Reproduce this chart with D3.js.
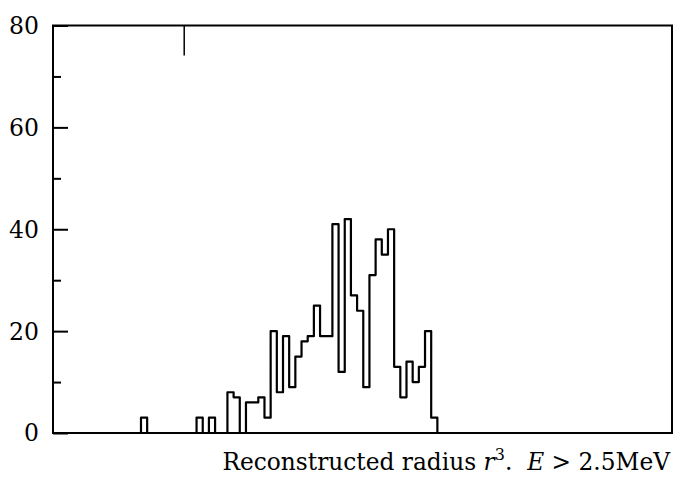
<!DOCTYPE html>
<html>
<head>
<meta charset="utf-8">
<script src="https://cdn.jsdelivr.net/npm/d3@7"></script>
<style>
  html, body { margin: 0; padding: 0; background: #fff; }
  svg { display: block; }
</style>
</head>
<body>
<svg id="chart" width="673" height="477"></svg>
<script>
// Histogram counts per bin (bins 0..99), only non-empty bins listed.
const binIndex = [14, 23, 25, 28, 29, 31, 32, 33, 34, 35, 36, 37, 38, 39, 40, 41, 42, 43, 44,
                  45, 46, 47, 48, 49, 50, 51, 52, 53, 54, 55, 56, 57, 58, 59, 60, 61];
const binCount = [3, 3, 3, 8, 7, 6, 6, 7, 3, 20, 8, 19, 9, 15, 18, 19, 25, 19, 19,
                  41, 12, 42, 27, 24, 9, 31, 38, 35, 40, 13, 7, 14, 10, 13, 20, 3];
const nBins = 100;
const yTicksMajor = [0, 20, 40, 60, 80];
const yTicksMinor = [10, 30, 50, 70];
const cutMarker = [21];

const serif = "'DejaVu Serif', serif";
const svg = d3.select("#chart");
const plotL = 53, plotR = 672, plotT = 25.5, plotB = 433;

const x = d3.scaleLinear().domain([-0.25, nBins]).range([plotL, plotR]);
const y = d3.scaleLinear().domain([0, 80]).range([plotB, plotT]);

// full count array
const counts = new Array(nBins).fill(0);
binIndex.forEach((b, i) => { counts[b] = binCount[i]; });

// step outline of the histogram
const pts = [];
pts.push([0, 0]);
counts.forEach((c, i) => { pts.push([i, c]); pts.push([i + 1, c]); });
pts.push([nBins, 0]);
const line = d3.line().x(d => x(d[0])).y(d => y(d[1]));
svg.append("path")
  .attr("d", line(pts))
  .attr("fill", "none")
  .attr("stroke", "#000")
  .attr("stroke-width", 2.2)
  .attr("stroke-linejoin", "round");

// frame
svg.append("rect")
  .attr("x", plotL).attr("y", plotT)
  .attr("width", plotR - plotL).attr("height", plotB - plotT)
  .attr("fill", "none").attr("stroke", "#000").attr("stroke-width", 2);

// y axis ticks pointing inward
const yAxis = d3.axisRight(y).tickValues(yTicksMajor).tickSize(15).tickFormat("");
const gy = svg.append("g").attr("transform", `translate(${plotL},0)`).call(yAxis);
gy.select(".domain").remove();
gy.selectAll("line").attr("stroke", "#000").attr("stroke-width", 2);

const yAxisMinor = d3.axisRight(y).tickValues(yTicksMinor).tickSize(8).tickFormat("");
const gym = svg.append("g").attr("transform", `translate(${plotL},0)`).call(yAxisMinor);
gym.select(".domain").remove();
gym.selectAll("line").attr("stroke", "#000").attr("stroke-width", 2);

// tick labels
svg.append("g").selectAll("text")
  .data(yTicksMajor).join("text")
  .attr("x", 39)
  .attr("y", d => y(d))
  .attr("dy", "0.36em")
  .attr("text-anchor", "end")
  .attr("font-family", serif)
  .attr("font-size", 23.5)
  .text(d => d);

// marker tick on the top edge
svg.append("g").selectAll("line")
  .data(cutMarker).join("line")
  .attr("x1", d => x(d)).attr("x2", d => x(d))
  .attr("y1", plotT).attr("y2", plotT + 30)
  .attr("stroke", "#000").attr("stroke-width", 1.5);

// axis caption
const cap = svg.append("text")
  .attr("x", 670).attr("y", 470)
  .attr("text-anchor", "end")
  .attr("font-family", serif)
  .attr("font-size", 23.3);
cap.append("tspan").text("Reconstructed radius ");
cap.append("tspan").attr("font-style", "italic").text("r");
cap.append("tspan").attr("font-size", 16).attr("dy", -10).text("3");
cap.append("tspan").attr("dy", 10).text(".\u00a0\u00a0");
cap.append("tspan").attr("font-style", "italic").text("E");
cap.append("tspan").text(" > 2.5MeV");
</script>
</body>
</html>
